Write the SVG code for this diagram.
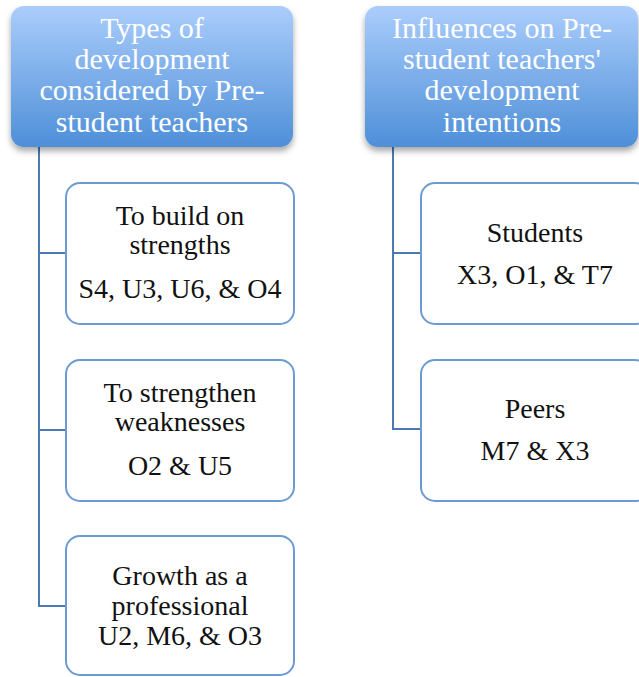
<svg xmlns="http://www.w3.org/2000/svg" width="639" height="677" viewBox="0 0 639 677">
  <style>
    .hdr { stroke: none; fill: url(#hdrGrad); filter: url(#shadow); }
    .hdrText { font-family: "Liberation Serif", "DejaVu Serif", serif; font-size: 30px; fill: #ffffff; text-anchor: middle; }
    .box { fill: #ffffff; stroke: #6c9bd2; stroke-width: 2; }
    .boxText { font-family: "Liberation Serif", "DejaVu Serif", serif; font-size: 28px; fill: #111111; text-anchor: middle; }
    .conn { fill: none; stroke: #4a7ab2; stroke-width: 2; }
  </style>
  <defs>
    <linearGradient id="hdrGrad" x1="0" y1="0" x2="0" y2="1">
      <stop offset="0" stop-color="#abcdfc"/>
      <stop offset="1" stop-color="#4e8fd8"/>
    </linearGradient>
    <filter id="shadow" x="-10%" y="-10%" width="120%" height="130%">
      <feDropShadow dx="0" dy="4" stdDeviation="3" flood-color="#000000" flood-opacity="0.35"/>
    </filter>
  </defs>

  <rect width="639" height="677" fill="#ffffff"/>

  <!-- connectors -->
  <g id="connectors">
    <path class="conn" d="M39 147 V606 H66"/>
    <path class="conn" d="M39 253 H66"/>
    <path class="conn" d="M39 430 H66"/>
    <path class="conn" d="M393 147 V429 H421"/>
    <path class="conn" d="M393 253 H421"/>
  </g>

  <!-- left column -->
  <g id="header-types">
    <rect class="hdr" x="11" y="6" width="282" height="141" rx="13"/>
    <text class="hdrText" x="152" y="38">Types of</text>
    <text class="hdrText" x="152" y="69">development</text>
    <text class="hdrText" x="152" y="100">considered by Pre-</text>
    <text class="hdrText" x="152" y="132">student teachers</text>
  </g>
  <g id="node-strengths">
    <rect class="box" x="66" y="183" width="228" height="141" rx="14"/>
    <text class="boxText" x="180" y="225">To build on</text>
    <text class="boxText" x="180" y="254">strengths</text>
    <text class="boxText" x="180" y="298">S4, U3, U6, &amp; O4</text>
  </g>
  <g id="node-weaknesses">
    <rect class="box" x="66" y="360" width="228" height="141" rx="14"/>
    <text class="boxText" x="180" y="402">To strengthen</text>
    <text class="boxText" x="180" y="431">weaknesses</text>
    <text class="boxText" x="180" y="475">O2 &amp; U5</text>
  </g>
  <g id="node-growth">
    <rect class="box" x="66" y="536" width="228" height="139" rx="14"/>
    <text class="boxText" x="180" y="585">Growth as a</text>
    <text class="boxText" x="180" y="615">professional</text>
    <text class="boxText" x="180" y="645">U2, M6, &amp; O3</text>
  </g>

  <!-- right column -->
  <g id="header-influences">
    <rect class="hdr" x="365" y="6" width="273" height="141" rx="13"/>
    <text class="hdrText" x="502" y="38">Influences on Pre-</text>
    <text class="hdrText" x="502" y="69">student teachers'</text>
    <text class="hdrText" x="502" y="100">development</text>
    <text class="hdrText" x="502" y="132">intentions</text>
  </g>
  <g id="node-students">
    <rect class="box" x="421" y="183" width="228" height="141" rx="14"/>
    <text class="boxText" x="535" y="242">Students</text>
    <text class="boxText" x="535" y="284">X3, O1, &amp; T7</text>
  </g>
  <g id="node-peers">
    <rect class="box" x="421" y="360" width="228" height="141" rx="14"/>
    <text class="boxText" x="535" y="418">Peers</text>
    <text class="boxText" x="535" y="460">M7 &amp; X3</text>
  </g>
</svg>
